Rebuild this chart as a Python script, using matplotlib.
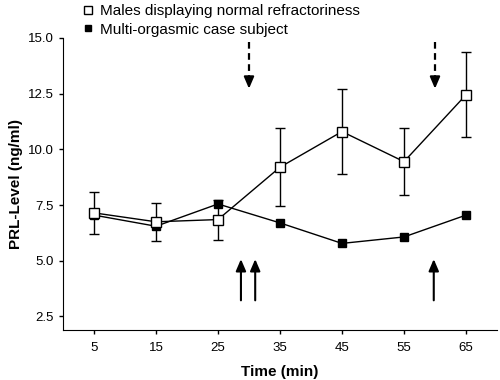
import matplotlib
matplotlib.use("Agg")
import matplotlib.pyplot as plt
from matplotlib.lines import Line2D

plt.rcParams['font.family'] = ['Liberation Sans', 'DejaVu Sans']

time = [5, 15, 25, 35, 45, 55, 65]
normal_mean = [7.15, 6.75, 6.85, 9.2, 10.8, 9.45, 12.45]
normal_err = [0.95, 0.85, 0.9, 1.75, 1.9, 1.5, 1.9]
case_subject = [7.05, 6.55, 7.55, 6.7, 5.78, 6.07, 7.05]

down_arrows_x = [30, 60]
up_arrows_x = [28.7, 31.0, 59.8]

fig = plt.figure(figsize=(5, 3.8), dpi=100)
ax = fig.add_axes([0.126, 0.132, 0.868, 0.768])

ax.plot(time, case_subject, color='black', lw=1, marker='s', ms=5.5,
        mfc='black', mec='black', zorder=3)
ax.errorbar(time, normal_mean, yerr=normal_err, color='black', lw=1,
            elinewidth=1, capsize=3.5, capthick=1, marker='s', ms=6.5,
            mfc='white', mec='black', mew=1, zorder=4)

# dashed down arrows
for x in down_arrows_x:
    ax.plot([x, x], [14.8, 13.3], color='black', lw=1.6, ls=(0, (3, 2)), zorder=2)
    ax.annotate('', xy=(x, 12.6), xytext=(x, 13.4),
                arrowprops=dict(arrowstyle='-|>,head_length=0.7,head_width=0.3',
                                color='black', lw=1.5))
# solid up arrows
for x in up_arrows_x:
    ax.annotate('', xy=(x, 5.2), xytext=(x, 3.1),
                arrowprops=dict(arrowstyle='-|>,head_length=0.7,head_width=0.3',
                                color='black', lw=1.5))

ax.set_xlim(0, 70)
ax.set_ylim(1.9, 15)
ax.set_xticks(time)
ax.set_yticks([2.5, 5.0, 7.5, 10.0, 12.5, 15.0])
ax.set_yticklabels(['2.5', '5.0', '7.5', '10.0', '12.5', '15.0'])
ax.tick_params(labelsize=9.5, length=3, width=1, direction='out')
ax.tick_params(axis='x', pad=6)
for s in ['top', 'right']:
    ax.spines[s].set_visible(False)
ax.set_xlabel('Time (min)', fontsize=11, fontweight='bold', labelpad=8)
ax.set_ylabel('PRL-Level (ng/ml)', fontsize=11, fontweight='bold', labelpad=4)

handles = [Line2D([], [], ls='none', marker='s', ms=6, mfc='white', mec='black'),
           Line2D([], [], ls='none', marker='s', ms=5, mfc='black', mec='black')]
fig.legend(handles, ['Males displaying normal refractoriness', 'Multi-orgasmic case subject'],
           loc='upper left', bbox_to_anchor=(0.16, 0.993), frameon=False,
           fontsize=11, handlelength=0.8, handletextpad=0.4, labelspacing=0.3,
           borderaxespad=0, borderpad=0.1)

fig.savefig('out.png', dpi=100)
